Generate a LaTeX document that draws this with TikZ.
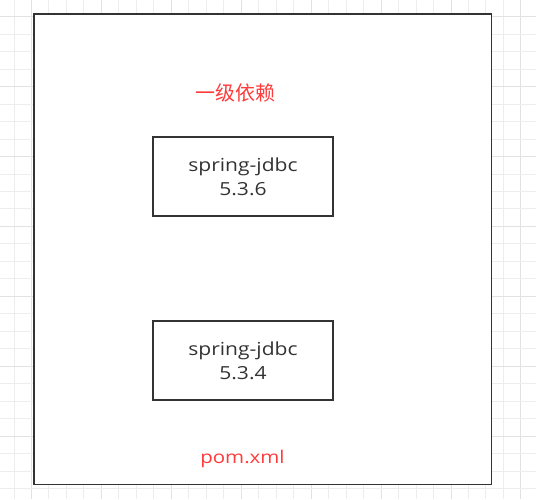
\documentclass[tikz,border=0pt]{standalone}
\usepackage{fontspec}
\setmainfont{Open Sans}
\newfontfamily\latinfont[FakeStretch=1.17]{Open Sans}
\newfontfamily\cjkfont{Noto Sans CJK SC}
\definecolor{gridminor}{HTML}{EDEDED}
\definecolor{gridmajor}{HTML}{E2E2E2}
\definecolor{framegray}{HTML}{333333}
\definecolor{labelred}{HTML}{FF3B3B}
\tikzset{
  minorline/.style={draw=gridminor, line width=1pt},
  majorline/.style={draw=gridmajor, line width=1pt},
  bigframe/.style={draw=framegray, fill=white, line width=1.8pt, minimum width=457.5pt, minimum height=470.5pt, inner sep=0pt},
  depbox/.style={draw=framegray, fill=white, line width=2pt, minimum width=180pt, minimum height=79pt, inner sep=0pt, align=center, text=framegray, font=\latinfont\fontsize{18}{24}\selectfont},
  redlabel/.style={text=labelred, inner sep=0pt, anchor=base},
}
\begin{document}
\begin{tikzpicture}[x=1pt,y=-1pt]
\useasboundingbox (0,0) rectangle (536,499);
\fill[white] (0,0) rectangle (536,499);
\foreach \i in {0,...,30} {
  \pgfmathtruncatemacro{\m}{mod(\i,4)}
  \ifnum\m=1
    \draw[majorline] ({14+17.48*\i},0) -- ({14+17.48*\i},499);
  \else
    \draw[minorline] ({14+17.48*\i},0) -- ({14+17.48*\i},499);
  \fi
}
\foreach \j in {0,...,28} {
  \pgfmathtruncatemacro{\m}{mod(\j,4)}
  \ifnum\m=0
    \draw[majorline] (0,{16.7+17.48*\j}) -- (536,{16.7+17.48*\j});
  \else
    \draw[minorline] (0,{16.7+17.48*\j}) -- (536,{16.7+17.48*\j});
  \fi
}
\node[bigframe] (pom) at (262.75,249.25) {};
\node[depbox] (jdbc536) at (243,176.5) {spring-jdbc\\5.3.6};
\node[depbox] (jdbc534) at (243,360.5) {spring-jdbc\\5.3.4};
\node[redlabel, font=\cjkfont\fontsize{20}{24}\selectfont] (level) at (235,100.6) {一级依赖};
\node[redlabel, font=\latinfont\fontsize{17.5}{24}\selectfont] (pomname) at (242.5,463.3) {pom.xml};
\end{tikzpicture}
\end{document}
